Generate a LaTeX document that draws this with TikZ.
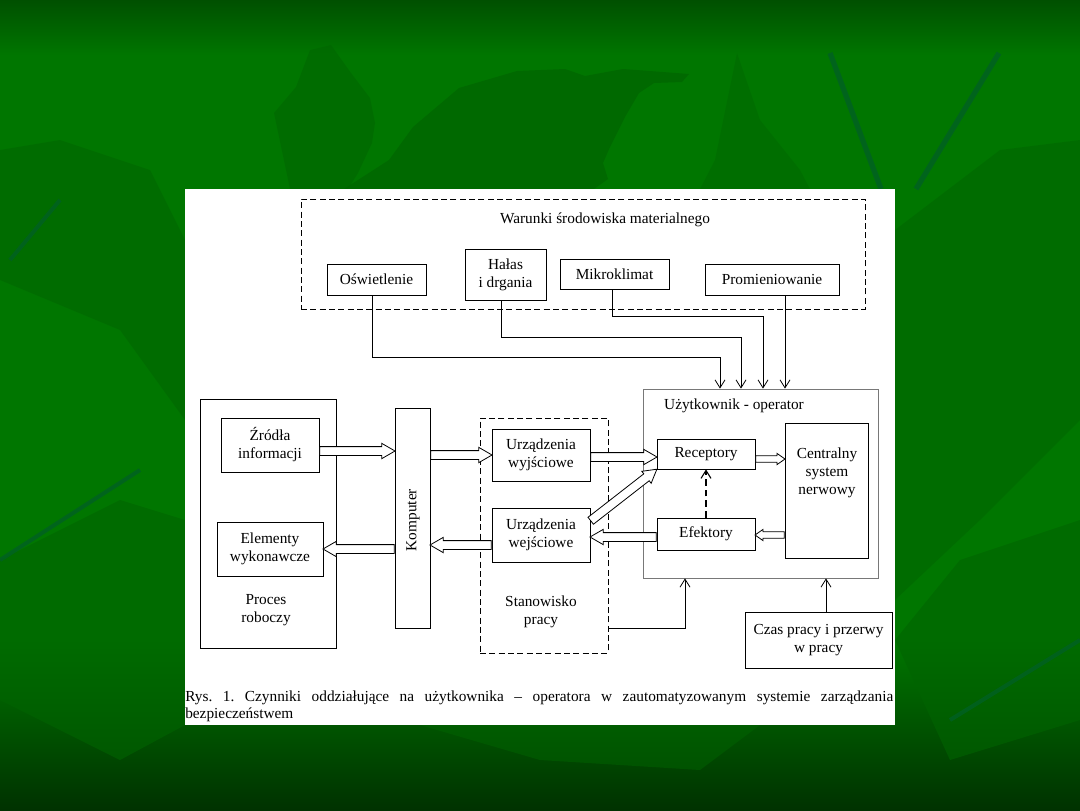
\documentclass[tikz,border=0pt]{standalone}
\usepackage{fontspec}
\setmainfont{Liberation Serif}
\usetikzlibrary{shapes.arrows,arrows.meta,calc}
\definecolor{gbase}{RGB}{0,118,0}
\definecolor{gtop}{RGB}{0,80,0}
\definecolor{gbot}{RGB}{0,50,0}
\definecolor{gleaf}{RGB}{0,100,0}
\definecolor{gstem}{RGB}{0,96,36}
\definecolor{ubox}{RGB}{120,120,120}
\newcommand\lbl{\fontsize{11.5}{13.5}\selectfont}
\newcommand\pxl[1]{#1*0.75pt}
\newcommand\harr[4][]{\path let \p1=(#3), \p2=(#4), \n1={atan2(\y2-\y1,\x2-\x1)}, \n2={veclen(\x2-\x1,\y2-\y1)} in node[hollow,#1,minimum height=\n2,rotate=\n1,anchor=tail] (#2) at (\p1) {};}
\begin{document}
\begin{tikzpicture}[x=0.75pt,y=-0.75pt,
  box/.style={draw, line width=0.6pt, inner sep=0pt, align=center, font=\lbl},
  dbox/.style={box, dash pattern=on 4.5pt off 2.5pt},
  txt/.style={align=center, font=\lbl, inner sep=0pt},
  ar/.style={line width=0.6pt, -{Straight Barb[length=6pt,width=7.5pt]}},
  hollow/.style={single arrow, draw, fill=white, line width=0.6pt, inner xsep=0pt,
    inner ysep=3pt, minimum width=0pt, single arrow head extend=2.4pt, single arrow tip angle=60,
    single arrow head indent=0pt},
  small/.style={inner ysep=2.1pt, single arrow head extend=1.8pt, single arrow tip angle=70}]
\useasboundingbox (0,0) rectangle (1080,810);
% background
\fill[gbase] (0,0) rectangle (1080,810);
\shade[top color=gtop, bottom color=gbase] (0,0) rectangle (1080,55);
\shade[top color=gbase, bottom color=gbot] (0,640) rectangle (1080,810);
\fill[gleaf, opacity=0.7] (459,88) -- (517,71) -- (565,69) -- (585,76) -- (623,69) -- (689,74) -- (682,82) -- (654,83) -- (639,93) -- (625,117) -- (610,147) -- (603,163) -- (608,179) -- (594,189) -- (344,189) -- (389,160) -- (413,127) -- cycle;
\fill[gleaf, opacity=0.5] (274,113) -- (296,87) -- (310,50) -- (331,45) -- (351,73) -- (370,98) -- (375,123) -- (372,143) -- (358,173) -- (348,189) -- (290,189) -- cycle;
\fill[gleaf, opacity=0.4] (737,53) -- (760,120) -- (800,170) -- (810,189) -- (700,189) -- (715,160) -- cycle;
\fill[gleaf, opacity=0.5] (0,150) -- (60,140) -- (150,170) -- (185,240) -- (185,420) -- (120,330) -- (0,280) -- cycle;
\fill[gleaf, opacity=0.5] (895,230) -- (1000,150) -- (1080,140) -- (1080,420) -- (980,520) -- (895,600) -- cycle;
\fill[gleaf, opacity=0.6] (0,560) -- (120,500) -- (185,520) -- (185,725) -- (120,760) -- (0,700) -- cycle;
\fill[gleaf, opacity=0.6] (895,640) -- (960,560) -- (1080,520) -- (1080,720) -- (950,760) -- cycle;
\fill[gleaf, opacity=0.5] (420,725) -- (540,760) -- (700,770) -- (760,725) -- cycle;
\draw[gstem, line width=4pt, opacity=0.8] (830,53) -- (881,189);
\draw[gstem, line width=4pt, opacity=0.8] (999,53) -- (916,189);
\draw[gstem, line width=3pt, opacity=0.8] (60,200) -- (10,260);
\draw[gstem, line width=3pt, opacity=0.8] (0,560) -- (140,470);
\draw[gstem, line width=3pt, opacity=0.8] (950,720) -- (1080,640);
% panel
\fill[white] (185,189) rectangle (895,725);
% environment
\node[dbox, minimum width=\pxl{564}, minimum height=\pxl{110}] (env) at (583,254) {};
\node[txt] (envt) at (605,220) {Warunki środowiska materialnego};
\node[box, minimum width=\pxl{99}, minimum height=\pxl{31}] (osw) at (376.5,279.5) {Oświetlenie};
\node[box, minimum width=\pxl{81}, minimum height=\pxl{51}] (halas) at (505.5,274.5) {Hałas\\i drgania};
\node[box, minimum width=\pxl{109}, minimum height=\pxl{30}] (mikro) at (614.5,274) {Mikroklimat};
\node[box, minimum width=\pxl{134}, minimum height=\pxl{31}] (prom) at (772,279.5) {Promieniowanie};
% user
\node[box, draw=ubox, minimum width=\pxl{235}, minimum height=\pxl{189}] (user) at (760.5,483.5) {};
\node[txt] (usert) at (734,406) {Użytkownik - operator};
\node[box, minimum width=\pxl{98}, minimum height=\pxl{30}] (recep) at (706,454) {Receptory};
\node[box, minimum width=\pxl{83}, minimum height=\pxl{135}] (csn) at (826.5,490.5) {};
\node[txt] (csnt) at (827,473) {Centralny\\system\\nerwowy};
\node[box, minimum width=\pxl{98}, minimum height=\pxl{32}] (efek) at (706,534) {Efektory};
% workplace
\node[dbox, minimum width=\pxl{128}, minimum height=\pxl{235}] (stan) at (544,535.5) {};
\node[txt] (stant) at (541,612) {Stanowisko\\pracy};
\node[box, minimum width=\pxl{98}, minimum height=\pxl{52}] (uwyj) at (541,455) {Urządzenia\\wyjściowe};
\node[box, minimum width=\pxl{98}, minimum height=\pxl{54}] (uwej) at (541,535) {Urządzenia\\wejściowe};
% computer
\node[box, minimum width=\pxl{35}, minimum height=\pxl{220}] (komp) at (412.5,518) {};
\node[txt, rotate=90] (kompt) at (413,520) {Komputer};
% process
\node[box, minimum width=\pxl{136}, minimum height=\pxl{249}] (proces) at (268,523.5) {};
\node[txt] (procest) at (266,610) {Proces\\roboczy};
\node[box, minimum width=\pxl{98}, minimum height=\pxl{54}] (zrodla) at (270,445) {Źródła\\informacji};
\node[box, minimum width=\pxl{106}, minimum height=\pxl{54}] (elem) at (270,549) {Elementy\\wykonawcze};
% time
\node[box, minimum width=\pxl{147}, minimum height=\pxl{56}] (czas) at (818.5,640) {Czas pracy i przerwy\\w pracy};
% thin connectors
\draw[ar] (osw.south -| 372,0) |- (720,357) -- (user.north -| 720,0);
\draw[ar] (halas.south -| 501,0) |- (741,337) -- (user.north -| 741,0);
\draw[ar] (mikro.south -| 612,0) |- (763,316) -- (user.north -| 763,0);
\draw[ar] (prom.south -| 785,0) -- (user.north -| 785,0);
\draw[ar] (stan.east |- 0,628) -| (user.south -| 685,0);
\draw[ar] (czas.north -| 826,0) -- (user.south -| 826,0);
\draw[ar, line width=0.8pt, dash pattern=on 5pt off 3pt] (efek.north) -- (recep.south);
% hollow arrows
\harr{a1}{zrodla.east |- 0,451}{komp.west |- 0,451}
\harr{a2}{komp.east |- 0,455}{uwyj.west |- 0,455}
\harr{a3}{uwyj.east |- 0,457}{recep.west |- 0,457}
\harr[small]{a4}{recep.east |- 0,459}{csn.west |- 0,459}
\harr[small]{a5}{csn.west |- 0,535}{efek.east |- 0,535}
\harr{a6}{efek.west |- 0,537}{uwej.east |- 0,537}
\harr{a7}{uwej.west |- 0,545}{komp.east |- 0,545}
\harr{a8}{komp.west |- 0,549}{elem.east |- 0,549}
\harr{a9}{uwej.east |- 0,521}{recep.south west}
% caption
\node[anchor=north west, text width=531pt, align=justify, inner sep=0pt,
  font=\fontsize{11.5}{12.75}\selectfont] (cap) at (185,691)
  {\frenchspacing Rys. 1. Czynniki oddziałujące na użytkownika – operatora w zautomatyzowanym systemie zarządzania\linebreak bezpieczeństwem};
\end{tikzpicture}
\end{document}
